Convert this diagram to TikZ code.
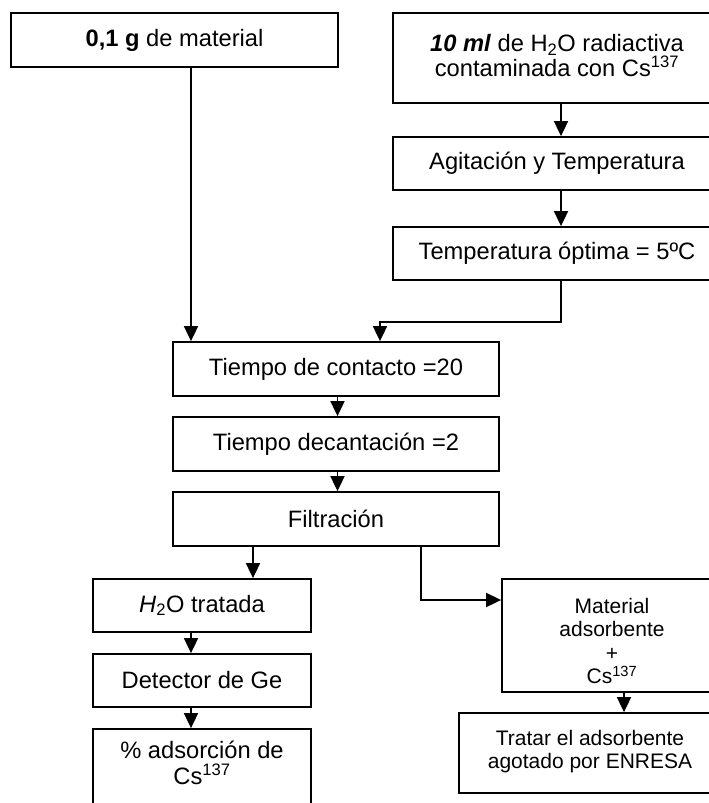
\documentclass[tikz,border=0pt]{standalone}
\usepackage{fontspec}
\setmainfont{Liberation Sans}
\usetikzlibrary{arrows.meta}
\tikzset{
  box/.style={draw, line width=1.8pt, inner sep=0pt, rectangle, align=center,
    font=\fontsize{23.7}{25}\selectfont},
  txt/.style={inner sep=0pt, align=center, font=\fontsize{23.7}{25.5}\selectfont},
  smalltxt/.style={inner sep=0pt, align=center, font=\fontsize{21}{23.5}\selectfont},
  arr/.style={line width=1.8pt, -{Triangle[length=15pt,width=14pt]}},
  widebox/.style={box, minimum width=328pt, minimum height=53pt},
  midbox/.style={box, minimum width=326pt, minimum height=54pt},
  leftbox/.style={box, minimum width=218pt, minimum height=53pt}
}
\begin{document}
\begin{tikzpicture}[x=1pt,y=-1pt]
\useasboundingbox (0,0) rectangle (709,803);
\clip (0,0) rectangle (709,803);

\node[box, minimum width=327pt, minimum height=54pt] (b1) at (174.5,40) {\textbf{0,1 g} de material};
\node[box, minimum width=328pt, minimum height=90pt] (b2) at (557,58) {};
\node[txt, anchor=north] (t2) at (557,34) {\textbf{\textit{10 ml}} de H\textsubscript{2}O radiactiva\\contaminada con Cs\textsuperscript{137}};
\node[widebox] (b3) at (557,163.5) {Agitación y Temperatura};
\node[widebox] (b4) at (557,253.5) {Temperatura óptima = 5ºC};
\node[midbox] (b5) at (336,369) {Tiempo de contacto =20};
\node[midbox] (b6) at (336,444) {Tiempo decantación =2};
\node[midbox] (b7) at (336,519) {Filtración};
\node[leftbox] (b8) at (202,605.5) {\textit{H}\textsubscript{2}O tratada};
\node[leftbox] (b9) at (202,680.5) {Detector de Ge};
\node[box, minimum width=218pt, minimum height=110pt] (b10) at (202,784) {};
\node[txt, anchor=north] (t10) at (202,741) {\% adsorción de\\Cs\textsuperscript{137}};
\node[box, minimum width=220pt, minimum height=113pt] (b11) at (612,635.5) {};
\node[smalltxt, anchor=north] (t11) at (612,598) {Material\\adsorbente\\+\\Cs\textsuperscript{137}};
\node[box, minimum width=262pt, minimum height=80pt] (b12) at (590,753) {};
\node[smalltxt, anchor=north] (t12) at (590,730) {Tratar el adsorbente\\agotado por ENRESA};

\draw[arr] ([xshift=16.5pt]b1.south) -- ([xshift=-145pt]b5.north);
\draw[arr] ([xshift=4pt]b2.south) -- ([xshift=4pt]b3.north);
\draw[arr] ([xshift=4pt]b3.south) -- ([xshift=4pt]b4.north);
\draw[arr] ([xshift=4pt]b4.south) -- ++(0,41) -| ([xshift=44pt]b5.north);
\draw[arr] ([xshift=1.5pt]b5.south) -- ([xshift=1.5pt]b6.north);
\draw[arr] ([xshift=1.5pt]b6.south) -- ([xshift=1.5pt]b7.north);
\draw[arr] ([xshift=-83pt]b7.south) -- ([xshift=51pt]b8.north);
\draw[arr] ([xshift=-11pt]b8.south) -- ([xshift=-11pt]b9.north);
\draw[arr] ([xshift=-11pt]b9.south) -- ([xshift=-11pt]b10.north);
\draw[arr] ([xshift=85pt]b7.south) |- ([yshift=35.5pt]b11.west);
\draw[arr] ([xshift=12pt]b11.south) -- ([xshift=34pt]b12.north);
\end{tikzpicture}
\end{document}
